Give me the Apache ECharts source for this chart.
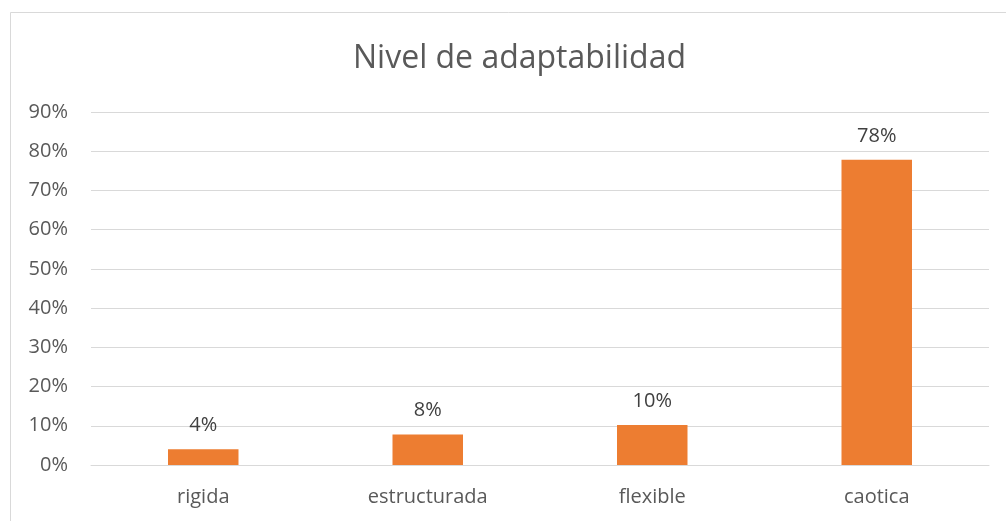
<!DOCTYPE html>
<html><head><meta charset="utf-8">
<script src="https://cdn.jsdelivr.net/npm/echarts@6/dist/echarts.min.js"></script>
<style>html,body{margin:0;padding:0;background:#fff}#c{width:1006px;height:521px}</style>
</head><body><div id="c"></div>
<script>
const categories = ['rigida', 'estructurada', 'flexible', 'caotica'];
const values = [4.0, 7.8, 10.2, 77.8];
const yTicks = [0, 10, 20, 30, 40, 50, 60, 70, 80, 90];
const titleText = 'Nivel de adaptabilidad';

const FONT = '"Open Sans", sans-serif';
const chart = echarts.init(document.getElementById('c'), null, {renderer: 'canvas'});
chart.setOption({
  animation: false,
  backgroundColor: '#fff',
  title: {
    text: titleText, left: 348, top: 38,
    textStyle: {fontFamily: FONT, fontSize: 32, fontWeight: 'normal', color: '#595959'}
  },
  graphic: [{
    type: 'rect', shape: {x: 10.5, y: 12.5, width: 1010, height: 520},
    style: {fill: 'none', stroke: '#d9d9d9', lineWidth: 1}, silent: true
  }],
  grid: {left: 91, right: 17, top: 112, bottom: 56, containLabel: false},
  xAxis: {
    type: 'category', data: categories,
    axisLine: {show: true, lineStyle: {color: '#d9d9d9', width: 1}},
    axisTick: {show: false},
    axisLabel: {fontFamily: FONT, fontSize: 20, color: '#595959', margin: 22}
  },
  yAxis: {
    type: 'value', min: yTicks[0], max: yTicks[yTicks.length - 1], interval: 10,
    axisLine: {show: false}, axisTick: {show: false},
    splitLine: {lineStyle: {color: '#d9d9d9', width: 1}},
    axisLabel: {fontFamily: FONT, fontSize: 20, color: '#595959', margin: 23,
      formatter: v => v + '%'}
  },
  series: [{
    type: 'bar', data: values, barWidth: '31.4%',
    itemStyle: {color: '#ED7D31'},
    label: {show: true, position: 'top', distance: 14, fontFamily: FONT, fontSize: 20,
      color: '#404040', formatter: p => Math.round(p.value) + '%'}
  }]
});
</script></body></html>
